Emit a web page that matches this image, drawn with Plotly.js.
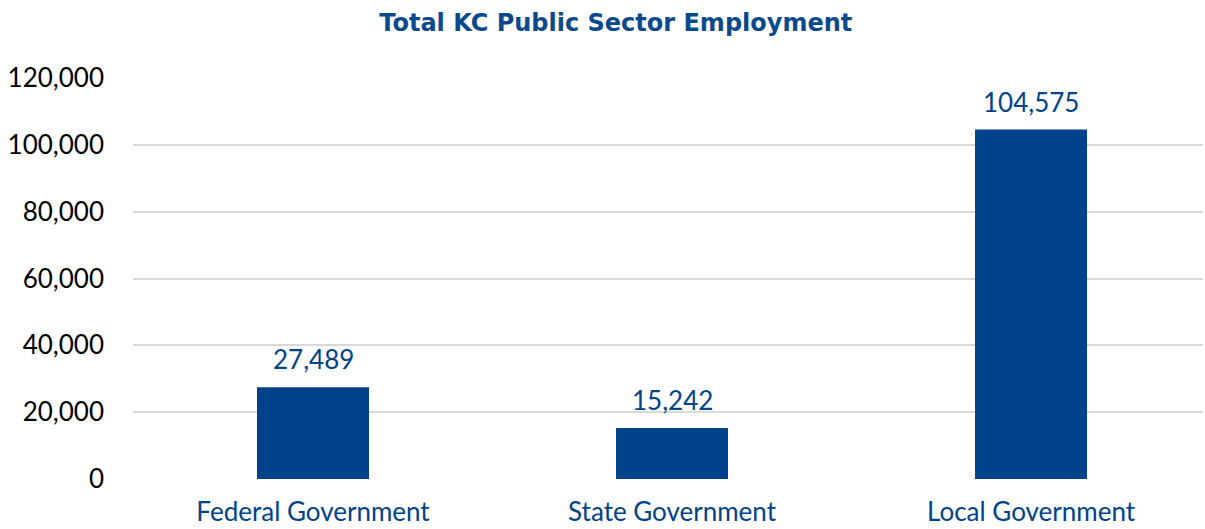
<!DOCTYPE html>
<html><head><meta charset="utf-8">
<script src="https://cdn.plot.ly/plotly-3.0.1.min.js"></script>
<style>html,body{margin:0;padding:0;background:#fff}#chart{width:1205px;height:529px}</style>
</head><body><div id="chart"></div>
<script>
const categories = ["Federal Government", "State Government", "Local Government"];
const employment = [27489, 15242, 104575];
const yTicks = [0, 20000, 40000, 60000, 80000, 100000, 120000];
const yTickLabels = ["0", "20,000", "40,000", "60,000", "80,000", "100,000", "120,000"];

const blue = "#00438A";
const trace = {
  type: "bar",
  x: categories,
  y: employment,
  marker: {color: blue},
  hoverinfo: "x+y"
};
const annotations = categories.map((c, i) => ({
  x: c, y: employment[i], xref: "x", yref: "y",
  text: employment[i].toLocaleString("en-US"),
  showarrow: false, yanchor: "bottom", yshift: 10,
  font: {family: "Lato, 'Open Sans', sans-serif", size: 26, color: blue}
}));
const layout = {
  width: 1205, height: 529,
  margin: {l: 133, r: 2, t: 78, b: 50},
  paper_bgcolor: "#fff", plot_bgcolor: "#fff",
  bargap: 0.688,
  showlegend: false,
  annotations: annotations,
  title: {text: "<b>Total KC Public Sector Employment</b>", x: 0.511, xanchor: "center", y: 0.958, yanchor: "middle",
          font: {family: "'DejaVu Sans', sans-serif", size: 24, color: "#0A4A8C"}},
  xaxis: {type: "category", range: [-0.5014, 2.479], showgrid: false, zeroline: false, showline: false,
          ticks: "", ticklabelstandoff: 15,
          tickfont: {family: "Lato, 'Open Sans', sans-serif", size: 26, color: blue}},
  yaxis: {range: [0, 120000], tickvals: yTicks, ticktext: yTickLabels,
          showgrid: true, gridcolor: "#D9D9D9", gridwidth: 2, zeroline: false, showline: false,
          ticks: "", ticklabelstandoff: 28,
          tickfont: {family: "Lato, 'Open Sans', sans-serif", size: 26, color: "#000"}}
};
Plotly.newPlot("chart", [trace], layout, {displayModeBar: false, staticPlot: true});
</script></body></html>
